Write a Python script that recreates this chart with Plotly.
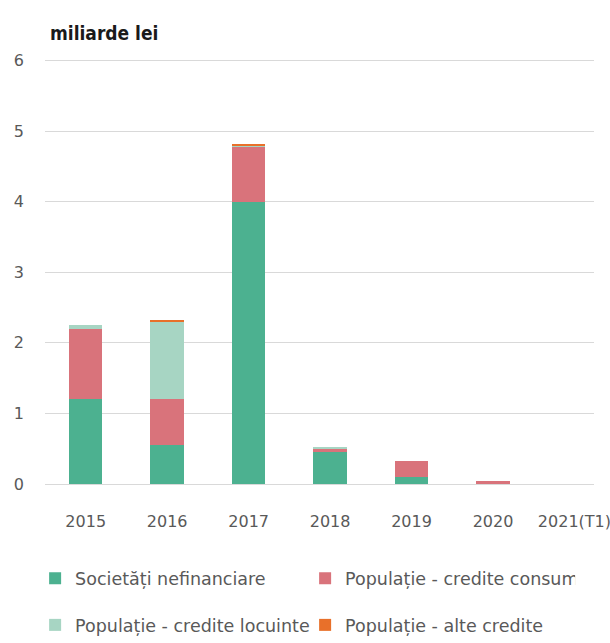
import plotly.graph_objects as go

# Categories (years) and stacked series, in billions of lei
years = ["2015", "2016", "2017", "2018", "2019", "2020", "2021(T1)"]
societati = [1.20, 0.55, 4.00, 0.45, 0.10, 0.00, 0.00]
consum = [1.00, 0.65, 0.78, 0.04, 0.23, 0.04, 0.00]
locuinte = [0.05, 1.10, 0.01, 0.04, 0.00, 0.00, 0.00]
alte = [0.00, 0.02, 0.03, 0.00, 0.00, 0.00, 0.00]

series = [
    ("Societăți nefinanciare", societati, "#4cb190", "legend"),
    ("Populație - credite consum", consum, "#d9737b", "legend"),
    ("Populație - credite locuinte", locuinte, "#a7d5c3", "legend2"),
    ("Populație - alte credite", alte, "#e8702a", "legend2"),
]

FONT = "DejaVu Sans, sans-serif"
TITLE_FONT = "DejaVu Sans Condensed, DejaVu Sans, sans-serif"
GRAY = "#595959"

fig = go.Figure()
for name, vals, color, lg in series:
    fig.add_trace(go.Bar(
        x=years, y=vals, name=name, legend=lg,
        marker=dict(color=color, line=dict(width=0)),
        width=0.41,
    ))

legend_style = dict(
    orientation="h", x=-0.018, xanchor="left", yanchor="middle",
    entrywidth=225, entrywidthmode="pixels",
    font=dict(size=17.5, color=GRAY, family=FONT), bgcolor="rgba(0,0,0,0)",
    itemwidth=30, traceorder="normal",
)

fig.update_layout(
    barmode="stack",
    width=610, height=643,
    margin=dict(l=45, r=0, t=59, b=156),
    paper_bgcolor="white", plot_bgcolor="white",
    font=dict(family=FONT, color=GRAY, size=16),
    xaxis=dict(
        type="category", range=[-0.5, 6.24],
        showgrid=False, showline=False, ticks="", ticklabelstandoff=26,
        tickfont=dict(size=16, color=GRAY),
    ),
    yaxis=dict(
        range=[0, 6.02], tickvals=[0, 1, 2, 3, 4, 5, 6],
        showgrid=True, gridcolor="#d9d9d9", gridwidth=1,
        zeroline=True, zerolinecolor="#d9d9d9", zerolinewidth=1,
        showline=False, ticks="", ticklabelstandoff=20,
        tickfont=dict(size=16, color=GRAY),
    ),
    legend=dict(legend_style, y=-0.222),
    legend2=dict(legend_style, y=-0.332),
    annotations=[dict(
        text="<b>miliarde lei</b>", xref="paper", yref="paper",
        x=0.006, y=1.062, xanchor="left", yanchor="middle", showarrow=False,
        font=dict(size=19, color="#1a1a1a", family=TITLE_FONT),
    )],
    bargap=0.59,
)

fig.write_html("out.html")
